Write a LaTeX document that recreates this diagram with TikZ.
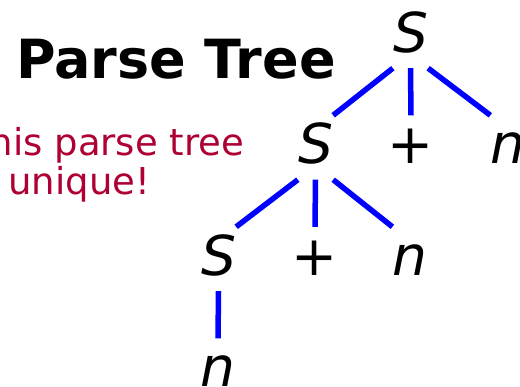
\documentclass[tikz,border=0pt]{standalone}
\usepackage{fontspec}
\setmainfont{DejaVu Sans}
\usepackage{tikz}
\usetikzlibrary{positioning}
\definecolor{noteRed}{HTML}{AE0032}
\definecolor{branchBlue}{HTML}{0000FF}
\tikzset{
  sym/.style={font=\fontsize{55}{60}\selectfont\itshape, text height=48pt, text depth=16pt,
    minimum width=33pt, inner sep=0pt, anchor=base},
  op/.style={sym, font=\fontsize{55}{60}\selectfont},
  branch/.style={line width=5.5pt, branchBlue}
}

\begin{document}
\begin{tikzpicture}[x=1pt, y=-1pt]
    \useasboundingbox (0,0) rectangle (520,386);
    \clip (0,0) rectangle (520,386);

    % heading and remark
    \node[anchor=base west, inner sep=0pt, font=\fontsize{54}{60}\selectfont\bfseries] (title) at (16,78) {Parse Tree};
    \node[anchor=base west, inner sep=0pt, align=left, text=noteRed, font=\fontsize{37}{39}\selectfont] (remark) at (-33,194) {This parse tree\\is unique!};

    % tree
    \node[sym] (s0) at (410.5,52) {S};
    \node[sym] (s1) at (315.5,163.5) {S};
    \node[op]  (plus1) at (411,163.5) {+};
    \node[sym] (n1) at (508,163.5) {n};
    \node[sym] (s2) at (218.5,275) {S};
    \node[op]  (plus2) at (315,275) {+};
    \node[sym] (n2) at (410,275) {n};
    \node[sym] (n3) at (218,386.5) {n};

    \draw[branch] (s0.south west) -- (s1.north east);
    \draw[branch] (s0.south) -- (plus1.north);
    \draw[branch] (s0.south east) -- (n1.north west);
    \draw[branch] (s1.south west) -- (s2.north east);
    \draw[branch] (s1.south) -- (plus2.north);
    \draw[branch] (s1.south east) -- (n2.north west);
    \draw[branch] (s2.south) -- (n3.north);
\end{tikzpicture}
\end{document}
